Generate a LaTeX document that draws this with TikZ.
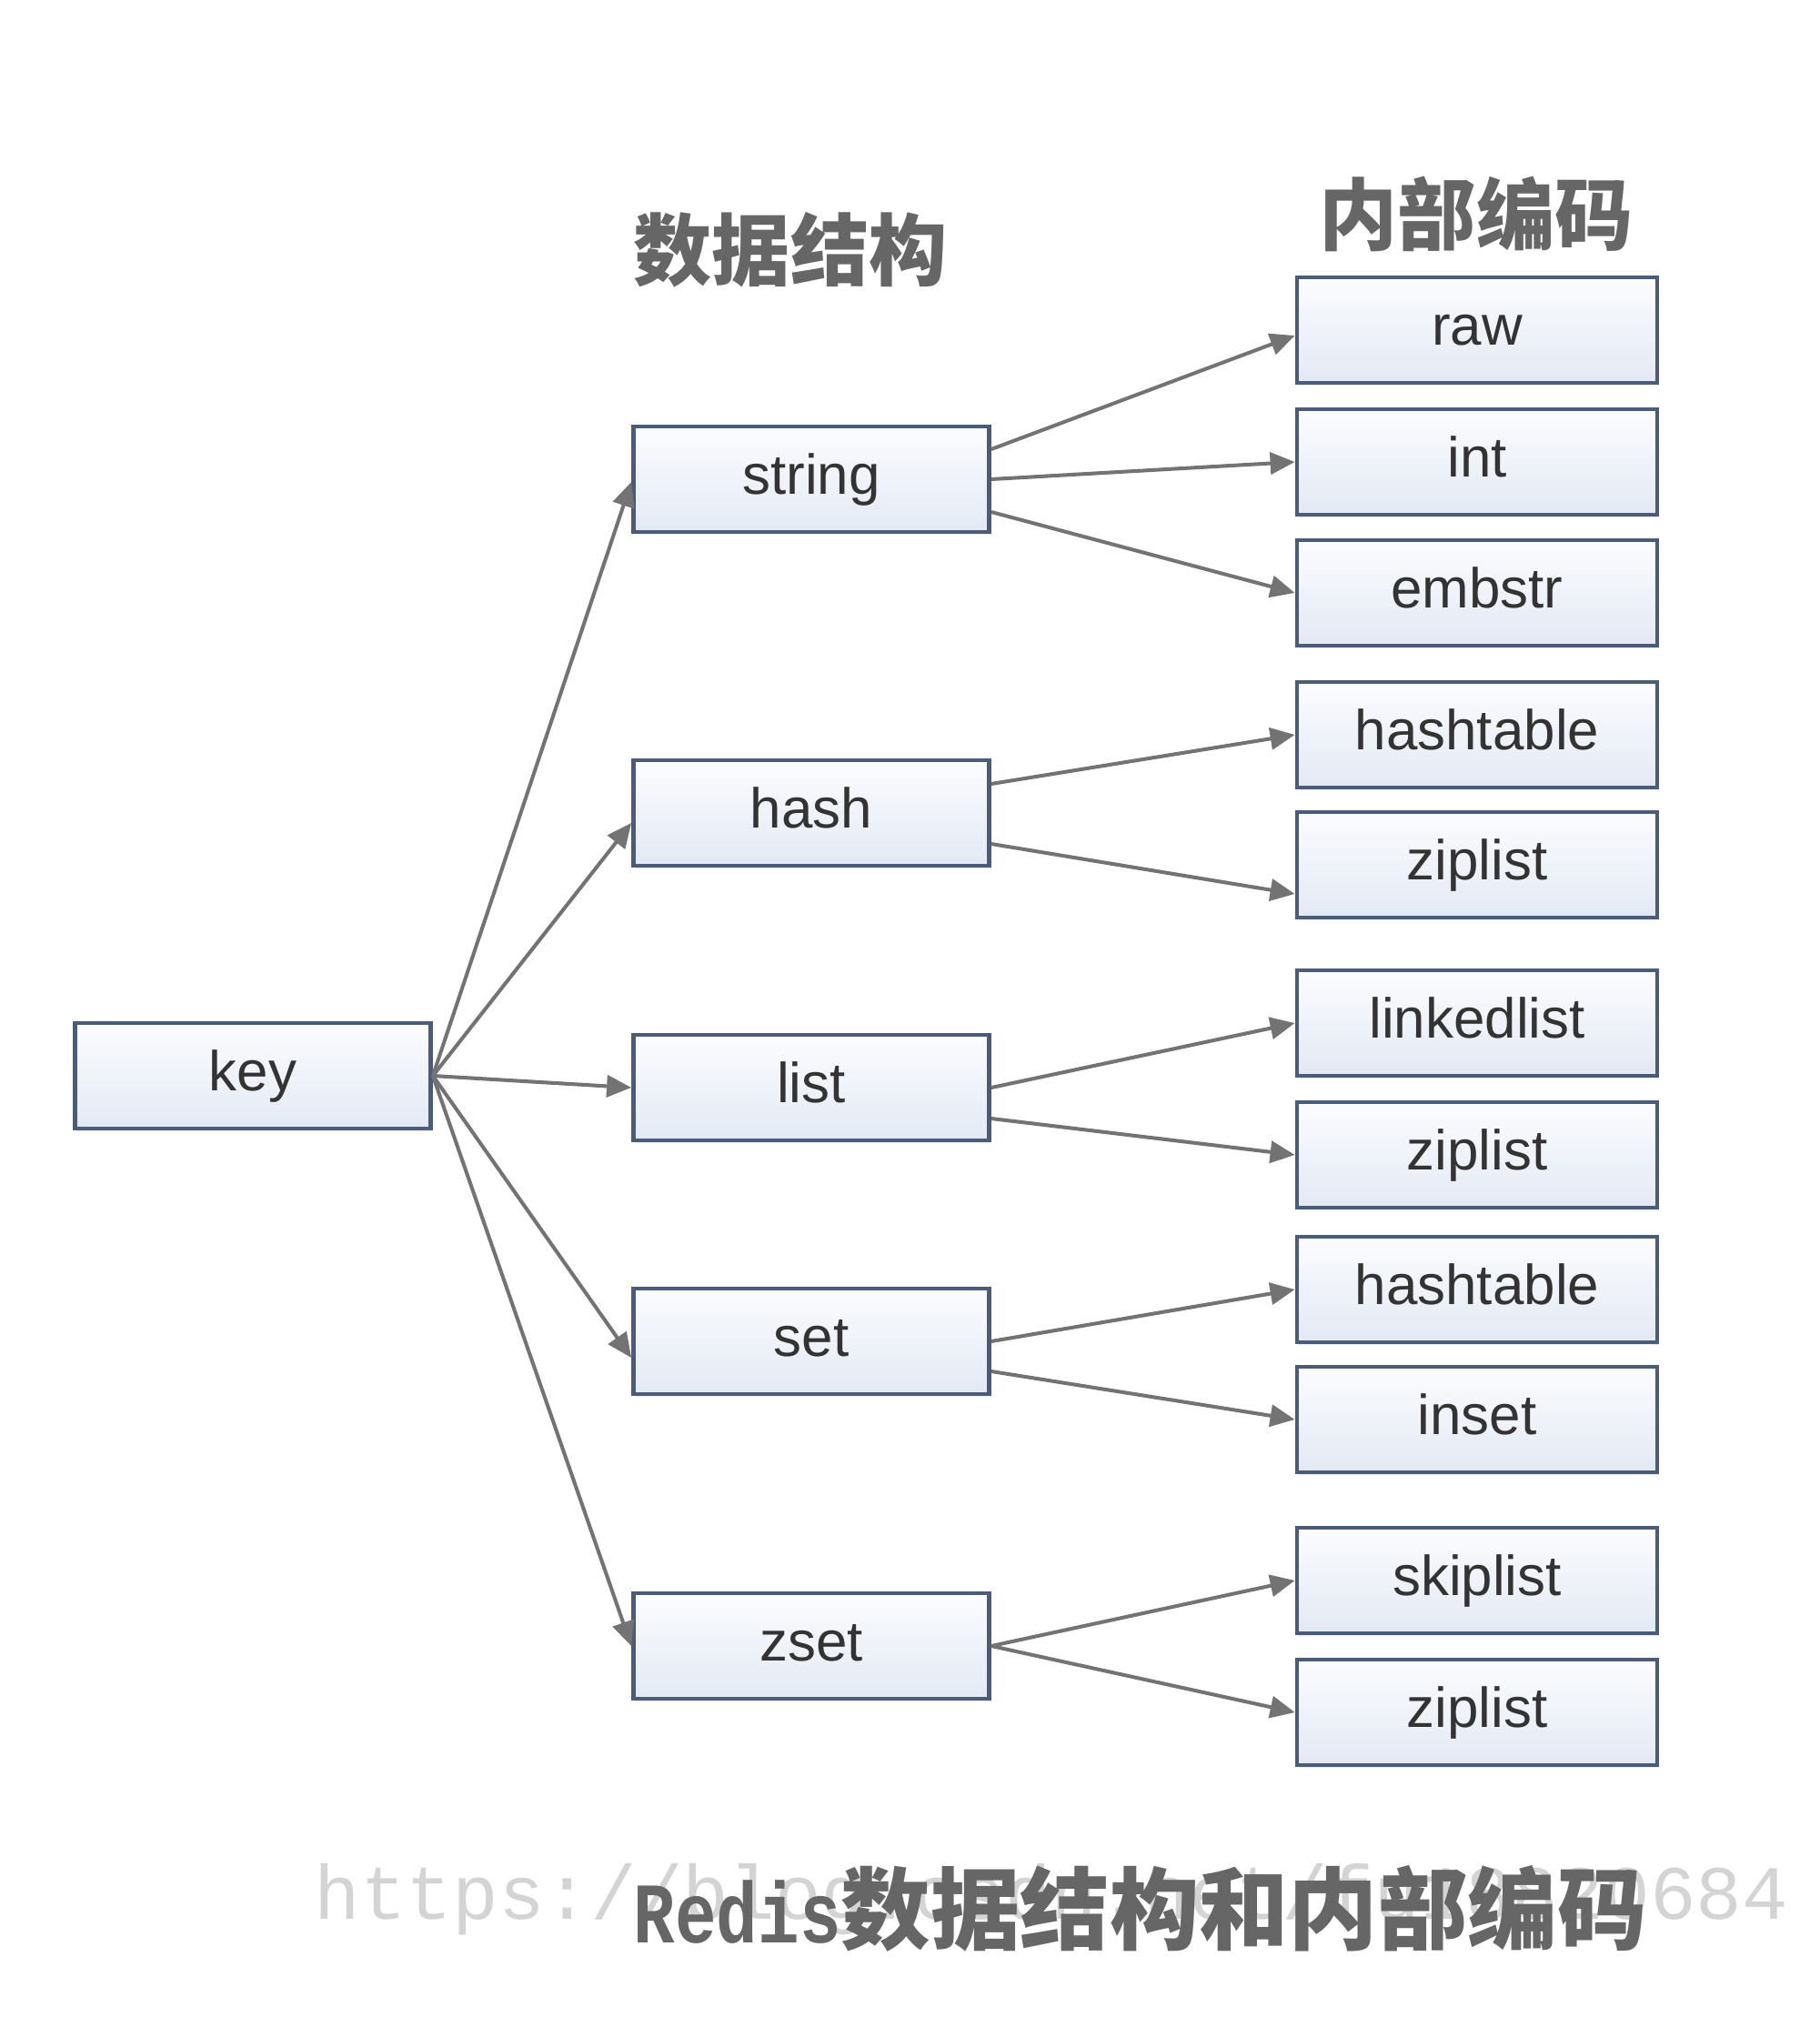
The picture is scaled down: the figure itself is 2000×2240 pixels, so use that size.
\documentclass[tikz,border=0pt]{standalone}
\usepackage{fontspec}
\setmainfont{Liberation Sans}
\newfontfamily\cjk{Noto Sans CJK SC}
\newfontfamily\mono{Liberation Mono}
\usetikzlibrary{arrows.meta,shadows}
\definecolor{boxborder}{HTML}{4B5B7A}
\definecolor{boxtop}{HTML}{FBFCFE}
\definecolor{boxbot}{HTML}{E3E9F4}
\definecolor{txt}{HTML}{333333}
\definecolor{arrowgray}{HTML}{737373}
\definecolor{headgray}{HTML}{666666}
\begin{document}
\begin{tikzpicture}[x=0.01cm,y=-0.01cm,
  box/.style={draw=boxborder,line width=1.3pt,top color=boxtop,bottom color=boxbot,
    minimum width=3.91cm,minimum height=1.16cm,inner sep=0pt,
    text height=0.45cm,text depth=0.13cm,
    font=\fontsize{17.6pt}{20pt}\selectfont,text=txt,
    drop shadow={shadow xshift=0.02cm,shadow yshift=-0.03cm,opacity=0.12,fill=boxborder}},
  rbox/.style={box,minimum width=3.96cm},
  conn/.style={draw=arrowgray,line width=1.15pt,-{Triangle[length=0.27cm,width=0.24cm]}},
  head/.style={anchor=base,inner sep=0pt,font=\cjk\bfseries\fontsize{24.5pt}{26pt}\selectfont,text=headgray}
]
\useasboundingbox (0,0) rectangle (2000,2240);

% headings
\node[head] (h1) at (869,308) {数据结构};
\node[head] (h2) at (1623,269) {内部编码};

% left / middle nodes
\node[box] (key) at (278,1183) {key};
\node[box] (string) at (892,527) {string};
\node[box] (hash) at (892,894) {hash};
\node[box] (list) at (892,1196) {list};
\node[box] (set) at (892,1475) {set};
\node[box] (zset) at (892,1810) {zset};

% right nodes
\node[rbox] (raw) at (1624,363) {raw};
\node[rbox] (int) at (1624,508) {int};
\node[rbox] (embstr) at (1624,652) {embstr};
\node[rbox] (ht1) at (1624,808) {hashtable};
\node[rbox] (zl1) at (1624,951) {ziplist};
\node[rbox] (ll) at (1624,1125) {linkedlist};
\node[rbox] (zl2) at (1624,1270) {ziplist};
\node[rbox] (ht2) at (1624,1418) {hashtable};
\node[rbox] (inset) at (1624,1561) {inset};
\node[rbox] (skip) at (1624,1738) {skiplist};
\node[rbox] (zl3) at (1624,1883) {ziplist};

% connectors from key
\draw[conn] (key.east) -- ([yshift=-0.03cm]string.west);
\draw[conn] (key.east) -- ([yshift=-0.11cm]hash.west);
\draw[conn] (key.east) -- (list.west);
\draw[conn] (key.east) -- ([yshift=-0.18cm]set.west);
\draw[conn] (key.east) -- (zset.west);

% connectors to encodings
\draw[conn] ([yshift=0.33cm]string.east) -- ([yshift=-0.06cm]raw.west);
\draw[conn] (string.east) -- (int.west);
\draw[conn] ([yshift=-0.36cm]string.east) -- (embstr.west);
\draw[conn] ([yshift=0.32cm]hash.east) -- (ht1.west);
\draw[conn] ([yshift=-0.34cm]hash.east) -- ([yshift=-0.32cm]zl1.west);
\draw[conn] (list.east) -- (ll.west);
\draw[conn] ([yshift=-0.34cm]list.east) -- (zl2.west);
\draw[conn] (set.east) -- (ht2.west);
\draw[conn] ([yshift=-0.33cm]set.east) -- (inset.west);
\draw[conn] (zset.east) -- (skip.west);
\draw[conn] (zset.east) -- (zl3.west);

% watermark and caption
\node[anchor=base west,inner sep=0pt,text=black!17,font=\mono\fontsize{24pt}{26pt}\selectfont] (wm) at (345,2110) {https://blog.csdn.net/fu18820684};
\node[anchor=base west,inner sep=0pt,text=headgray] (cap) at (696,2136)
  {\scalebox{0.8}[1]{\mono\bfseries\fontsize{27pt}{29pt}\selectfont Redis}{\cjk\bfseries\fontsize{28pt}{30pt}\selectfont 数据结构和内部编码}};
\end{tikzpicture}
\end{document}
